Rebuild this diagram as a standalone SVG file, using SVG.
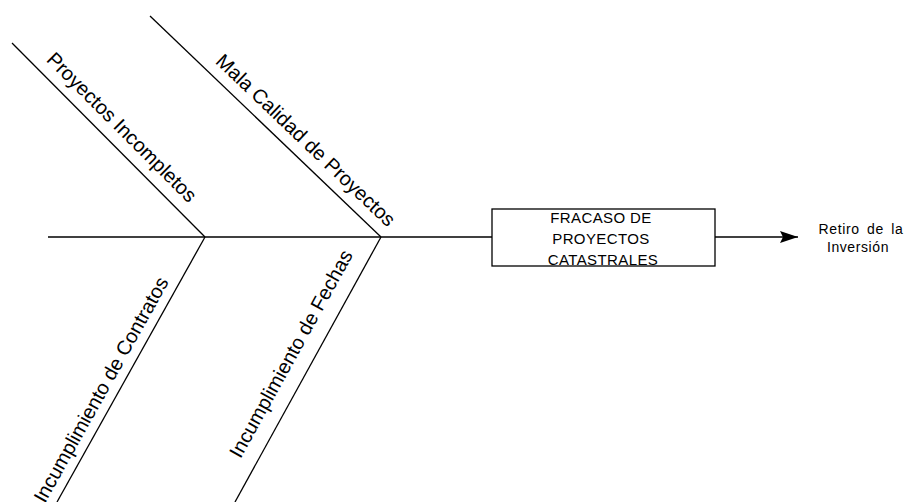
<svg xmlns="http://www.w3.org/2000/svg" width="905" height="502" viewBox="0 0 905 502">
<style>
.ln{stroke:#000;stroke-width:1.3;fill:none}
.lbl{font-family:"Liberation Sans",Arial,sans-serif;font-size:20px;fill:#000;text-anchor:middle}
.bx{font-family:"Liberation Sans",Arial,sans-serif;font-size:15px;fill:#000;text-anchor:middle;letter-spacing:0.4px}
.res{font-family:"Liberation Sans",Arial,sans-serif;font-size:14px;fill:#000;text-anchor:middle;letter-spacing:0.6px;word-spacing:3px}
</style>
<defs>
<marker id="arr" viewBox="0 0 18 12" refX="18" refY="6" markerWidth="18" markerHeight="12" markerUnits="userSpaceOnUse" orient="auto">
<path d="M0,0 L18,6 L0,12 L3,6 Z" fill="#000"/>
</marker>
</defs>
<rect width="905" height="502" fill="#fff"/>
<g id="connectors">
<line class="ln" x1="48" y1="237" x2="492" y2="237"/>
<line class="ln" x1="715" y1="237" x2="798" y2="237" marker-end="url(#arr)"/>
<line class="ln" x1="12" y1="43" x2="205" y2="237"/>
<line class="ln" x1="150" y1="16" x2="381" y2="237"/>
<line class="ln" x1="205" y1="237" x2="57" y2="502"/>
<line class="ln" x1="381" y1="237" x2="235" y2="502"/>
</g>
<g id="effect">
<rect class="ln" x="492" y="209" width="223" height="57" fill="#fff"/>
<text class="bx" x="601" y="223">FRACASO DE</text>
<text class="bx" x="601" y="244">PROYECTOS</text>
<text class="bx" x="603" y="265">CATASTRALES</text>
</g>
<g id="result">
<text class="res" x="861" y="234">Retiro de la</text>
<text class="res" x="858" y="252">Inversión</text>
</g>
<g id="cause-proyectos-incompletos">
<text class="lbl" transform="translate(117,132) rotate(45)">Proyectos Incompletos</text>
</g>
<g id="cause-mala-calidad">
<text class="lbl" transform="translate(301,145) rotate(43.7)">Mala Calidad de Proyectos</text>
</g>
<g id="cause-incumplimiento-contratos">
<text class="lbl" transform="translate(107,393) rotate(-60.8)">Incumplimiento de Contratos</text>
</g>
<g id="cause-incumplimiento-fechas">
<text class="lbl" transform="translate(297,357) rotate(-61.1)">Incumplimiento de Fechas</text>
</g>
</svg>
